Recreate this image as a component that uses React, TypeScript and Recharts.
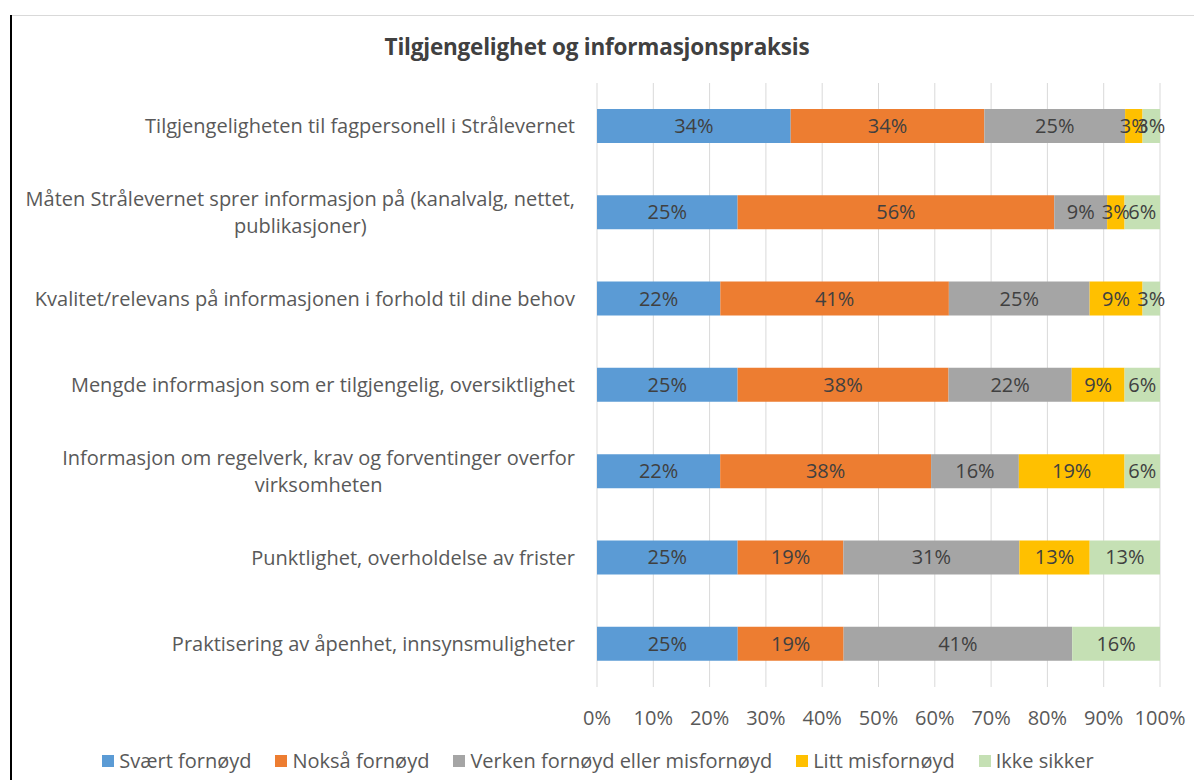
import React from "react";
import {
  BarChart,
  Bar,
  XAxis,
  YAxis,
  CartesianGrid,
  Legend,
  LabelList,
} from "recharts";

const categories = [
  "Tilgjengeligheten til fagpersonell i Strålevernet",
  "Måten Strålevernet sprer informasjon på (kanalvalg, nettet,\npublikasjoner)",
  "Kvalitet/relevans på informasjonen i forhold til dine behov",
  "Mengde informasjon som er tilgjengelig, oversiktlighet",
  "Informasjon om regelverk, krav og forventinger overfor\nvirksomheten",
  "Punktlighet, overholdelse av frister",
  "Praktisering av åpenhet, innsynsmuligheter",
];

const svaertFornoyd = [34.4, 25, 21.9, 25, 21.9, 25, 25];
const nokssaFornoyd = [34.4, 56.3, 40.6, 37.5, 37.5, 18.8, 18.8];
const verken = [25, 9.4, 25, 21.9, 15.6, 31.3, 40.6];
const littMisfornoyd = [3.1, 3.1, 9.4, 9.4, 18.8, 12.5, 0];
const ikkeSikker = [3.1, 6.3, 3.1, 6.3, 6.3, 12.5, 15.6];

const xTicks = [0, 0.1, 0.2, 0.3, 0.4, 0.5, 0.6, 0.7, 0.8, 0.9, 1];

const series = [
  { key: "svaert", name: "Svært fornøyd", color: "#5B9BD5" },
  { key: "noksa", name: "Nokså fornøyd", color: "#ED7D31" },
  { key: "verken", name: "Verken fornøyd eller misfornøyd", color: "#A5A5A5" },
  { key: "litt", name: "Litt misfornøyd", color: "#FFC000" },
  { key: "ikke", name: "Ikke sikker", color: "#C5E0B4" },
];

const data = categories.map((c, i) => ({
  name: c,
  svaert: svaertFornoyd[i],
  noksa: nokssaFornoyd[i],
  verken: verken[i],
  litt: littMisfornoyd[i],
  ikke: ikkeSikker[i],
}));

const FONT = "'Open Sans', sans-serif";
const FS = 20;

let measureCtx: CanvasRenderingContext2D | null = null;
function measure(text: string, size: number) {
  if (!measureCtx) measureCtx = document.createElement("canvas").getContext("2d");
  if (!measureCtx) return text.length * size * 0.55;
  measureCtx.font = `${size}px 'Open Sans'`;
  return measureCtx.measureText(text).width;
}

// wrapped labels are centred on each other, right edge aligned with the rest
const CategoryTick = (props: any) => {
  const { x, y, payload } = props;
  const lines: string[] = String(payload.value).split("\n");
  const right = x - 22;
  if (lines.length === 1) {
    return (
      <text x={right} y={y} dy={7} textAnchor="end" fill="#595959" fontSize={FS} fontFamily={FONT}>
        {lines[0]}
      </text>
    );
  }
  const maxW = Math.max(...lines.map((l) => measure(l, FS)));
  const cx = right - maxW / 2;
  const lh = 27;
  const top = y - ((lines.length - 1) * lh) / 2;
  return (
    <text textAnchor="middle" fill="#595959" fontSize={FS} fontFamily={FONT}>
      {lines.map((l, i) => (
        <tspan key={i} x={cx} y={top + i * lh} dy={7}>
          {l}
        </tspan>
      ))}
    </text>
  );
};

const PercentTick = (props: any) => {
  const { x, y, payload } = props;
  return (
    <text x={x} y={y} dy={38} textAnchor="middle" fill="#595959" fontSize={FS} fontFamily={FONT}>
      {`${Math.round(payload.value * 100)}%`}
    </text>
  );
};

const SegmentLabel = (props: any) => {
  const { x, y, width, height, value } = props;
  if (!value) return null;
  return (
    <text
      x={x + width / 2}
      y={y + height / 2}
      dy={7}
      textAnchor="middle"
      fill="#404040"
      fontSize={FS}
      fontFamily={FONT}
    >
      {`${Math.round(value)}%`}
    </text>
  );
};

const LegendContent = () => (
  <div
    style={{
      display: "flex",
      justifyContent: "center",
      alignItems: "center",
      gap: 24,
      paddingTop: 10,
      paddingLeft: 36,
      fontFamily: FONT,
      fontSize: FS,
      color: "#595959",
    }}
  >
    {series.map((s) => (
      <div key={s.key} style={{ display: "flex", alignItems: "center" }}>
        <span
          style={{
            display: "inline-block",
            width: 12,
            height: 12,
            background: s.color,
            marginRight: 5,
          }}
        />
        <span>{s.name}</span>
      </div>
    ))}
  </div>
);

export default function App() {
  return (
    <div
      style={{
        position: "absolute",
        left: 0,
        top: 0,
        width: 1194,
        height: 780,
        background: "#fff",
        overflow: "hidden",
      }}
    >
      <div style={{ position: "absolute", left: 10, top: 15, width: 2, height: 765, background: "#000" }} />
      <div style={{ position: "absolute", left: 12, top: 15, width: 1182, height: 1, background: "#d9d9d9" }} />
      <div
        style={{
          position: "absolute",
          left: 0,
          width: 1194,
          top: 31,
          textAlign: "center",
          fontFamily: FONT,
          fontWeight: 700,
          fontSize: 22.5,
          letterSpacing: -0.2,
          color: "#404040",
        }}
      >
        Tilgjengelighet og informasjonspraksis
      </div>
      <BarChart
        width={1194}
        height={780}
        data={data}
        layout="vertical"
        stackOffset="expand"
        barSize={34}
        margin={{ top: 83, right: 34, left: 0, bottom: 0 }}
      >
        <CartesianGrid horizontal={false} stroke="#d9d9d9" />
        <XAxis
          type="number"
          domain={[0, 1]}
          ticks={xTicks}
          tick={<PercentTick />}
          axisLine={false}
          tickLine={false}
          tickSize={0}
          tickMargin={0}
          height={50}
          interval={0}
        />
        <YAxis
          type="category"
          dataKey="name"
          width={597}
          tick={<CategoryTick />}
          axisLine={false}
          tickLine={false}
          tickSize={0}
          tickMargin={0}
          interval={0}
        />
        <Legend verticalAlign="bottom" height={43} content={<LegendContent />} />
        {series.map((s) => (
          <Bar key={s.key} dataKey={s.key} name={s.name} stackId="a" fill={s.color} isAnimationActive={false}>
            <LabelList dataKey={s.key} content={<SegmentLabel />} />
          </Bar>
        ))}
      </BarChart>
    </div>
  );
}
